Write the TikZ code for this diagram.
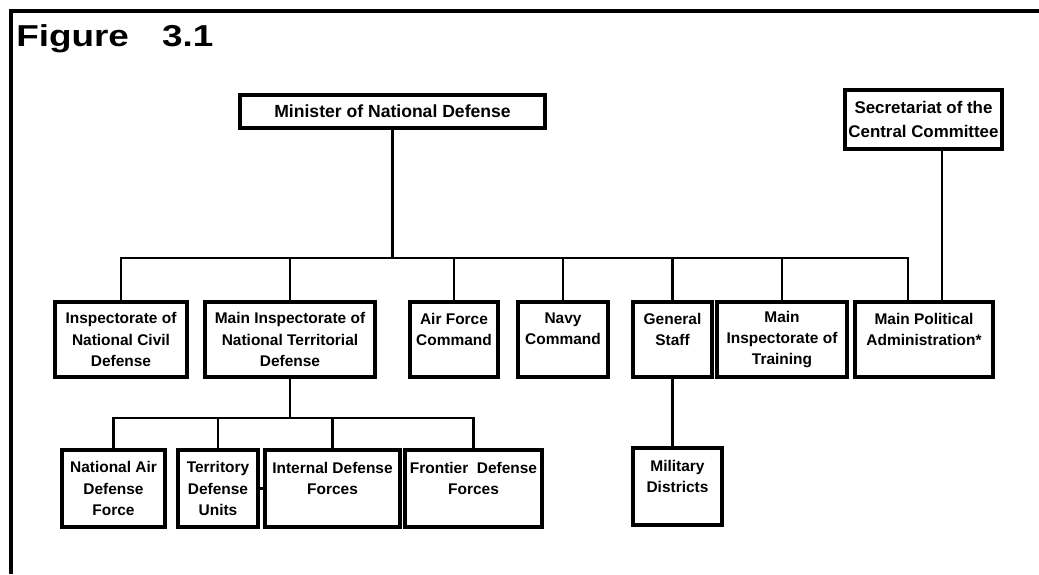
\documentclass[tikz,border=0pt]{standalone}
\usepackage{fontspec}
\setmainfont{Liberation Sans}
\newfontfamily\titlefont[FakeStretch=1.22]{Liberation Sans}
\usetikzlibrary{calc}

\begin{document}
\begin{tikzpicture}[x=0.025cm, y=-0.025cm,
    unit/.style={draw, line width=2.3pt, inner sep=2pt, align=center, font=\fontsize{11}{15}\selectfont\bfseries, minimum height=1.875cm},
    sub/.style={unit, minimum height=1.925cm},
    head/.style={draw, line width=2.3pt, inner sep=2pt, align=center, font=\fontsize{12}{17}\selectfont\bfseries},
    link/.style={line width=2.1pt}
]
\useasboundingbox (0,0) rectangle (1039,574);
\draw[line width=2.6pt] (11,574) -- (11,11) -- (1039,11);
\node[anchor=base west, inner sep=0pt, font=\titlefont\bfseries\fontsize{21.5}{26}\selectfont] (title) at (16,46) {Figure\hspace{1.1em}3.1};

\node[head, minimum width=7.625cm, minimum height=0.825cm, font=\fontsize{12.5}{15}\selectfont\bfseries] (minister) at (392.5,111.5) {Minister of National Defense};
\node[head, minimum width=3.925cm, minimum height=1.475cm] (secretariat) at (923.5,119.5) {Secretariat of the\\Central Committee};

\node[unit, minimum width=3.3cm] (civil) at (121,339.5) {Inspectorate of\\National Civil\\Defense};
\node[unit, minimum width=4.25cm] (terr) at (290,339.5) {Main Inspectorate of\\National Territorial\\Defense};
\node[unit, minimum width=2.2cm] (airforce) at (454,339.5) {Air Force\\Command\\\phantom{X}};
\node[unit, minimum width=2.25cm] (navy) at (563,339.5) {Navy\\Command\\\phantom{X}};
\node[unit, minimum width=1.975cm] (staff) at (672.5,339.5) {General\\Staff\\\phantom{X}};
\node[unit, minimum width=3.25cm] (training) at (782,339.5) {Main\\Inspectorate of\\Training};
\node[unit, minimum width=3.45cm] (political) at (924,339.5) {Main Political\\Administration*\\\phantom{X}};

\node[sub, minimum width=2.575cm] (nadf) at (113.5,488.5) {National Air\\Defense\\Force};
\node[sub, minimum width=2cm] (tdu) at (218,488.5) {Territory\\Defense\\Units};
\node[sub, minimum width=3.375cm] (idf) at (332.5,488.5) {Internal Defense\\Forces\\\phantom{X}};
\node[sub, minimum width=3.425cm] (fdf) at (473.5,488.5) {Frontier\ \ Defense\\Forces\\\phantom{X}};
\node[sub, minimum width=2.225cm] (districts) at (677.5,486.5) {Military\\Districts\\\phantom{X}};

\coordinate (bus) at (0,258);
\coordinate (subbus) at (0,418);
\coordinate (poldrop) at ($(political.north)+(-16,0)$);
\coordinate (secdrop) at ($(secretariat.south)+(18.5,0)$);

\draw[link] (minister.south) -- (minister.south |- bus);
\draw[link] (civil.north) -- (civil.north |- bus) -- (poldrop |- bus) -- (poldrop);
\foreach \n in {terr, airforce, navy, staff, training}
    \draw[link] (\n.north) -- (\n.north |- bus);
\draw[link] (secdrop) -- (secdrop |- political.north);

\draw[link] (terr.south) -- (terr.south |- subbus);
\draw[link] (nadf.north) -- (nadf.north |- subbus) -- (fdf.north |- subbus) -- (fdf.north);
\foreach \n in {tdu, idf}
    \draw[link] (\n.north) -- (\n.north |- subbus);
\draw[link] (tdu.east) -- (idf.west);

\draw[link] (staff.south) -- (staff.south |- districts.north);
\end{tikzpicture}
\end{document}
